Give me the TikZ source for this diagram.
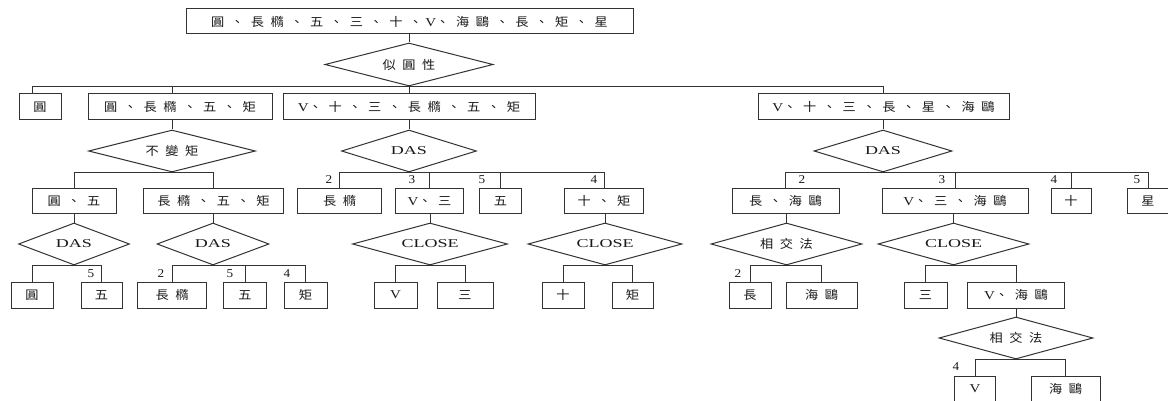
\documentclass[tikz,border=0pt]{standalone}
\usepackage{fontspec}
\usetikzlibrary{shapes.geometric}
\setmainfont{Liberation Serif}
\newfontfamily\cjk[LetterSpace=55,FakeStretch=1.1]{Noto Sans CJK TC}
\newfontfamily\latw[FakeStretch=1.5]{Liberation Serif}
\newfontfamily\latv[FakeStretch=1.25]{Liberation Serif}
\newfontfamily\numf[FakeStretch=1.1]{Liberation Serif}
\newcommand\VV{{\latv\fontsize{12}{14}\selectfont V}}
\newcommand\ltx[1]{{\latw\fontsize{12}{14}\selectfont #1}}
\tikzset{
  ln/.style={draw=black!80, line width=1pt},
  bx/.style={ln, rectangle, inner sep=0pt, minimum height=25pt,
     font=\cjk\fontsize{12}{14}\selectfont, text=black!90},
  dm/.style={ln, diamond, aspect=4, inner sep=0pt, minimum height=42pt,
     font=\cjk\fontsize{12}{14}\selectfont, text=black!90},
  num/.style={inner sep=0pt, font=\numf\fontsize{12}{14}\selectfont, text=black!90},
}
\begin{document}
\begin{tikzpicture}[x=1pt,y=-1pt]
\useasboundingbox (0,0) rectangle (1168,401);
\fill[white] (0,0) rectangle (1168,401);
\clip (0,0) rectangle (1168,401);
% level 0
\node[bx, minimum width=447pt] (root) at (409.5,21.5) {圓、長橢、五、三、十、\kern3pt\VV 、海鷗、長、矩、星};
\node[dm, minimum width=168pt, minimum height=43pt] (d0) at (409,64.5) {似圓性};
% level 1
\node[bx, minimum width=42pt, minimum height=26pt] (b1) at (40,107) {圓};
\node[bx, minimum width=184pt, minimum height=26pt] (b2) at (180,107) {圓、長橢、五、矩};
\node[bx, minimum width=252pt, minimum height=26pt] (b3) at (409,107) {\VV 、十、三、長橢、五、矩};
\node[bx, minimum width=251pt, minimum height=26pt] (b4) at (883.5,107) {\VV 、十、三、長、星、海鷗};
\coordinate (s1) at (32,107);
\coordinate (s2) at (172,107);
% level 2 diamonds
\node[dm, minimum width=167pt] (d2) at (172,151) {不變矩};
\node[dm, minimum width=135pt] (d3) at (409,151) {\ltx{DAS}};
\node[dm, minimum width=138pt] (d4) at (883,151) {\ltx{DAS}};
% level 2 boxes
\node[bx, minimum width=84pt] (c21) at (74,201) {圓、五};
\node[bx, minimum width=140pt] (c22) at (213.5,201) {長橢、五、矩};
\node[bx, minimum width=84pt] (c31) at (339.5,201) {長橢};
\node[bx, minimum width=68pt] (c32) at (429.5,201) {\VV 、三};
\node[bx, minimum width=42pt] (c33) at (500.5,201) {五};
\node[bx, minimum width=79pt] (c34) at (604,201) {十、矩};
\node[bx, minimum width=107pt] (c41) at (785.5,201) {長、海鷗};
\node[bx, minimum width=146pt] (c42) at (955,201) {\VV 、三、海鷗};
\node[bx, minimum width=40pt] (c43) at (1071,201) {十};
\node[bx, minimum width=41pt] (c44) at (1148,201) {星};
% level 3 diamonds
\node[dm, minimum width=111pt] (d21) at (74,244) {\ltx{DAS}};
\node[dm, minimum width=112pt] (d22) at (213,244) {\ltx{DAS}};
\node[dm, minimum width=155pt] (d32) at (430,244) {\ltx{CLOSE}};
\node[dm, minimum width=154pt] (d34) at (605,244) {\ltx{CLOSE}};
\node[dm, minimum width=151pt] (d41) at (786.5,244) {相交法};
\node[dm, minimum width=151pt] (d42) at (953.5,244) {\ltx{CLOSE}};
% level 3 boxes
\node[bx, minimum width=42pt, minimum height=26pt] (e1) at (32,295) {圓};
\node[bx, minimum width=41pt, minimum height=26pt] (e2) at (101.5,295) {五};
\node[bx, minimum width=69pt, minimum height=26pt] (e3) at (172,295) {長橢};
\node[bx, minimum width=43pt, minimum height=26pt] (e4) at (245,295) {五};
\node[bx, minimum width=43pt, minimum height=26pt] (e5) at (305.5,295) {矩};
\node[bx, minimum width=43pt, minimum height=26pt] (e6) at (395.5,295) {\VV};
\node[bx, minimum width=56pt, minimum height=26pt] (e7) at (465,295) {三};
\node[bx, minimum width=42pt, minimum height=26pt] (e8) at (563,295) {十};
\node[bx, minimum width=41pt, minimum height=26pt] (e9) at (632.5,295) {矩};
\node[bx, minimum width=42pt, minimum height=26pt] (e10) at (750,295) {長};
\node[bx, minimum width=71pt, minimum height=26pt] (e11) at (821.5,295) {海鷗};
\node[bx, minimum width=43pt, minimum height=26pt] (e12) at (925.5,295) {三};
\node[bx, minimum width=97pt, minimum height=26pt] (e13) at (1016,295) {\VV 、海鷗};
% level 4
\node[dm, minimum width=154pt] (d5) at (1016,338) {相交法};
\node[bx, minimum width=41pt, minimum height=26pt] (f1) at (975,389) {\VV};
\node[bx, minimum width=69pt, minimum height=26pt] (f2) at (1065.5,389) {海鷗};
% number labels
\node[num] (n2a) at (329,180) {2};
\node[num] (n3a) at (412,180) {3};
\node[num] (n5a) at (482,180) {5};
\node[num] (n4a) at (594,180) {4};
\node[num] (r2) at (802,180) {2};
\node[num] (r3) at (942,180) {3};
\node[num] (r4) at (1054,180) {4};
\node[num] (r5) at (1137,180) {5};
\node[num] (l5) at (91,274) {5};
\node[num] (l2) at (161,274) {2};
\node[num] (l5b) at (230,274) {5};
\node[num] (l4) at (287,274) {4};
\node[num] (m2) at (738,274) {2};
\node[num] (m4) at (956,367) {4};
% connectors
\draw[ln] (root.south -| d0.north) -- (d0.north);
\draw[ln] (s1 |- d0.south) -- (b4.north |- d0.south);
\draw[ln] (s1 |- d0.south) -- (s1 |- b1.north);
\draw[ln] (s2 |- d0.south) -- (s2 |- b2.north);
\draw[ln] (d0.south) -- (b3.north);
\draw[ln] (b4.north |- d0.south) -- (b4.north);
\draw[ln] (d2.north |- b2.south) -- (d2.north);
\draw[ln] (d3.north |- b3.south) -- (d3.north);
\draw[ln] (d4.north |- b4.south) -- (d4.north);
% d2 branch
\draw[ln] (c21.north) -- (c21.north |- d2.south) -- (c22.north |- d2.south) -- (c22.north);
% d3 branch
\draw[ln] (c31.north) -- (c31.north |- d3.south) -- (c34.north |- d3.south) -- (c34.north);
\draw[ln] (c32.north |- d3.south) -- (c32.north);
\draw[ln] (c33.north |- d3.south) -- (c33.north);
% d4 branch
\draw[ln] (c41.north) -- (c41.north |- d4.south) -- (c44.north |- d4.south) -- (c44.north);
\draw[ln] (c42.north |- d4.south) -- (c42.north);
\draw[ln] (c43.north |- d4.south) -- (c43.north);
% box to level 3 diamonds
\draw[ln] (d21.north |- c21.south) -- (d21.north);
\draw[ln] (d22.north |- c22.south) -- (d22.north);
\draw[ln] (d32.north |- c32.south) -- (d32.north);
\draw[ln] (d34.north |- c34.south) -- (d34.north);
\draw[ln] (d41.north |- c41.south) -- (d41.north);
\draw[ln] (d42.north |- c42.south) -- (d42.north);
% level 3 branches
\draw[ln] (e1.north) -- (e1.north |- d21.south) -- (e2.north |- d21.south) -- (e2.north);
\draw[ln] (e3.north) -- (e3.north |- d22.south) -- (e5.north |- d22.south) -- (e5.north);
\draw[ln] (e4.north |- d22.south) -- (e4.north);
\draw[ln] (e6.north) -- (e6.north |- d32.south) -- (e7.north |- d32.south) -- (e7.north);
\draw[ln] (e8.north) -- (e8.north |- d34.south) -- (e9.north |- d34.south) -- (e9.north);
\draw[ln] (e10.north) -- (e10.north |- d41.south) -- (e11.north |- d41.south) -- (e11.north);
\draw[ln] (e12.north) -- (e12.north |- d42.south) -- (e13.north |- d42.south) -- (e13.north);
% level 4
\draw[ln] (d5.north |- e13.south) -- (d5.north);
\draw[ln] (f1.north) -- (f1.north |- d5.south) -- (f2.north |- d5.south) -- (f2.north);
\end{tikzpicture}
\end{document}
